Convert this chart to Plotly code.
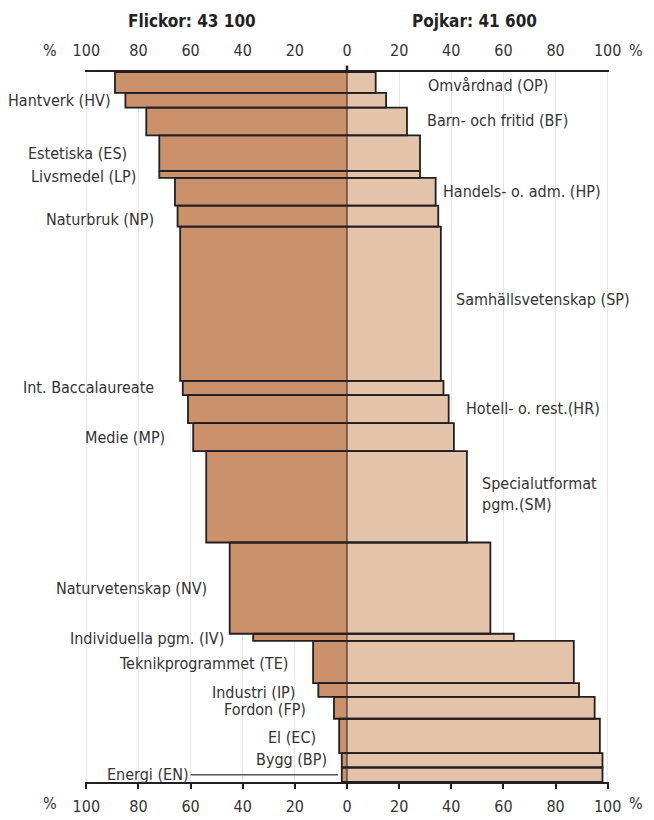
import plotly.graph_objects as go

# ---- data ----
programs = ["Omvårdnad (OP)", "Hantverk (HV)", "Barn- och fritid (BF)", "Estetiska (ES)",
            "Livsmedel (LP)", "Handels- o. adm. (HP)", "Naturbruk (NP)", "Samhällsvetenskap (SP)",
            "Int. Baccalaureate", "Hotell- o. rest.(HR)", "Medie (MP)", "Specialutformat<br>pgm.(SM)",
            "Naturvetenskap (NV)", "Individuella pgm. (IV)", "Teknikprogrammet (TE)", "Industri (IP)",
            "Fordon (FP)", "El (EC)", "Bygg (BP)", "Energi (EN)"]
students = [2500, 1750, 3300, 4250, 830, 3300, 2500, 18400, 1700, 3340,
            3340, 10900, 10880, 860, 5030, 1650, 2600, 4090, 1720, 1730]
girls_pct = [89, 85, 77, 72, 72, 66, 65, 64, 63, 61, 59, 54, 45, 36, 13, 11, 5, 3, 2, 2]
boys_pct = [11, 15, 23, 28, 28, 34, 35, 36, 37, 39, 41, 46, 55, 64, 87, 89, 95, 97, 98, 98]
girls_title = "Flickor: 43 100"
boys_title = "Pojkar: 41 600"
tick_values = [-100, -80, -60, -40, -20, 0, 20, 40, 60, 80, 100]
tick_labels = ["100", "80", "60", "40", "20", "0", "20", "40", "60", "80", "100"]

# ---- layout config for labels (side, x anchor in % units, vertical nudge in px) ----
label_side = ["R", "L", "R", "L", "L", "R", "L", "R", "L", "R", "L", "R",
              "L", "L", "L", "L", "L", "L", "L", "EN"]
label_x = [30.2, -89.7, 29.8, -83.6, -80.2, 35.9, -73.3, 41.2, -73.3, 45.0, -69.1, 51.1,
           -53.1, -46.6, -21.8, -19.1, -14.9, -11.1, -6.9, -3.4]
label_dy = [-3, 0, 1, 0, -2, 0, -3, 4, 0, 1, 0, 3, 0, -1, -1.5, -2, -2, -2, 1, 0]

FONT = "DejaVu Sans Condensed, Liberation Sans Narrow, sans-serif"
GIRL = "#CB916B"
BOY = "#E3C4AA"
DARK = "#231F20"
TXT = "#333333"

total = sum(students)
tops, centers, bots = [], [], []
acc = 0
for s in students:
    tops.append(acc)
    centers.append(acc + s / 2)
    acc += s
    bots.append(acc)

fig = go.Figure()
fig.add_trace(go.Bar(orientation="h", y=centers, x=[-g for g in girls_pct], base=0,
                     width=students, marker=dict(color=GIRL, line=dict(width=0)),
                     hoverinfo="skip", showlegend=False))
fig.add_trace(go.Bar(orientation="h", y=centers, x=boys_pct, base=0,
                     width=students, marker=dict(color=BOY, line=dict(width=0)),
                     hoverinfo="skip", showlegend=False))

# outlines of each bar
ox, oy = [], []
for g, b, t, bt in zip(girls_pct, boys_pct, tops, bots):
    ox += [-g, b, b, -g, -g, None]
    oy += [t, t, bt, bt, t, None]
fig.add_trace(go.Scatter(x=ox, y=oy, mode="lines", line=dict(color=DARK, width=1.8),
                         hoverinfo="skip", showlegend=False))
# centre line
fig.add_trace(go.Scatter(x=[0, 0], y=[0, total], mode="lines", line=dict(color=DARK, width=1),
                         hoverinfo="skip", showlegend=False))
# invisible trace for top axis
fig.add_trace(go.Scatter(x=[-100, 100], y=[0, 0], mode="markers", marker=dict(opacity=0),
                         xaxis="x2", hoverinfo="skip", showlegend=False))

annotations = []
for name, side, lx, dy, c in zip(programs, label_side, label_x, label_dy, centers):
    f = dict(family=FONT, size=16, color=TXT)
    if side == "L":
        annotations.append(dict(x=lx, y=c, text=name, showarrow=False, xanchor="right",
                                yanchor="middle", yshift=dy, font=f))
    elif side == "R":
        annotations.append(dict(x=lx, y=c, text=name, showarrow=False, xanchor="left",
                                yanchor="middle", align="left", yshift=dy, font=f))
    else:
        annotations.append(dict(x=lx, y=c, text=name, showarrow=True, arrowhead=0,
                                arrowwidth=1.6, arrowcolor="#555555", ax=-190, ay=0,
                                font=f))

annotations += [
    dict(x=-59.4, y=1.0724, yref="paper", yanchor="middle", text="<b>" + girls_title + "</b>",
         showarrow=False, font=dict(family=FONT, size=17, color="#222222")),
    dict(x=48.9, y=1.0724, yref="paper", yanchor="middle", text="<b>" + boys_title + "</b>",
         showarrow=False, font=dict(family=FONT, size=17, color="#222222")),
]
for xp, yp in [(-0.0668, 1.0302), (1.052, 1.0302), (-0.0668, -0.0302), (1.052, -0.0302)]:
    annotations.append(dict(x=xp, y=yp, xref="paper", yref="paper", text="%", showarrow=False,
                            xanchor="center", yanchor="middle",
                            font=dict(family=FONT, size=16, color=TXT)))

axis_common = dict(range=[-100.5, 100.5], tickvals=tick_values, ticktext=tick_labels,
                   tickfont=dict(family=FONT, size=16, color=TXT), zeroline=False,
                   showline=True, linecolor=DARK, linewidth=1.5, fixedrange=True)

fig.update_layout(
    width=646, height=820,
    margin=dict(l=77, r=45, t=64, b=38, pad=0),
    paper_bgcolor="white", plot_bgcolor="white",
    barmode="overlay", bargap=0,
    showlegend=False,
    xaxis=dict(**axis_common, side="bottom", ticks="outside", ticklen=5, tickwidth=1.5,
               tickcolor=DARK, showgrid=True, gridcolor="#E6E6E6", gridwidth=1,
               ticklabelstandoff=4),
    xaxis2=dict(**axis_common, side="top", overlaying="x", matches="x", ticks="",
                showgrid=False, ticklabelstandoff=8),
    yaxis=dict(range=[total, 0], visible=False, fixedrange=True),
    annotations=annotations,
    shapes=[dict(type="line", xref="x", yref="paper", x0=0, x1=0, y0=1, y1=1.009,
                 line=dict(color=DARK, width=2.5))],
)

fig.write_html("out.html")
